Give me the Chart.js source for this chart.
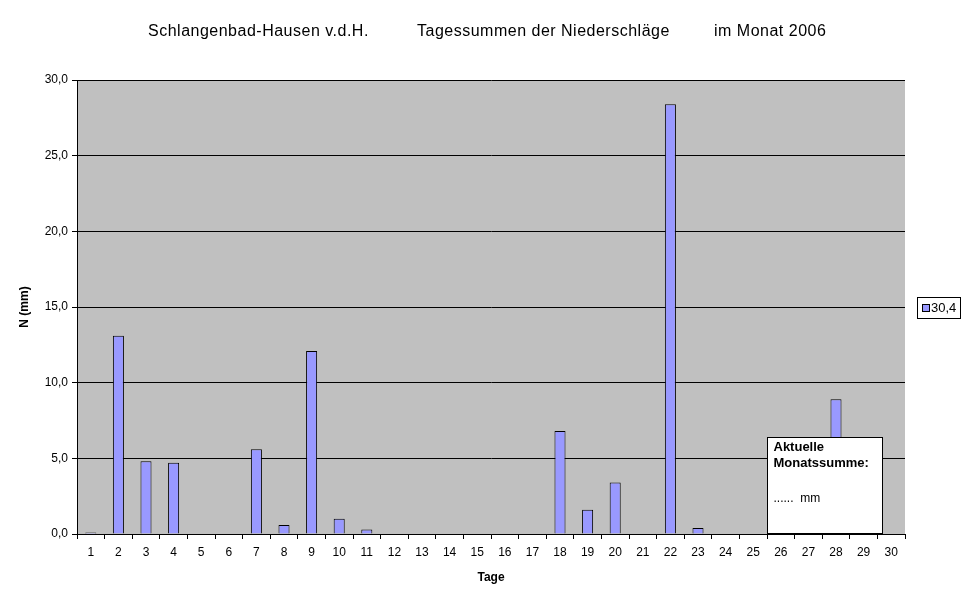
<!DOCTYPE html>
<html>
<head>
<meta charset="utf-8">
<script src="https://cdn.jsdelivr.net/npm/chart.js@4"></script>
<style>
  body { margin: 0; background: #fff; }
  canvas { display: block; }
</style>
</head>
<body>
<canvas id="chart" width="970" height="604"></canvas>
<script>
const days = ['1','2','3','4','5','6','7','8','9','10','11','12','13','14','15',
  '16','17','18','19','20','21','22','23','24','25','26','27','28','29','30'];
const rain = [0.1, 13.1, 4.8, 4.7, 0, 0, 5.6, 0.6, 12.1, 1.0, 0.3, 0, 0, 0, 0,
  0, 0, 6.8, 1.6, 3.4, 0, 28.4, 0.4, 0, 0, 0, 0, 8.9, 0, 0];
const seriesName = '30,4';
const titleParts = ['Schlangenbad-Hausen v.d.H.', 'Tagessummen der Niederschläge', 'im Monat 2006'];
const noteLines = ['Aktuelle', 'Monatssumme:', '', '......  mm'];

const font = '"Liberation Sans", Arial, sans-serif';
const ctx = document.getElementById('chart').getContext('2d');

// grey plot background
const plotBackground = {
  id: 'plotBackground',
  beforeDraw(chart) {
    const a = chart.chartArea;
    const c = chart.ctx;
    c.save();
    c.fillStyle = '#c0c0c0';
    c.fillRect(a.left, a.top, a.right - a.left, a.bottom - a.top);
    c.restore();
  }
};

// title, legend and the note box, Excel style
const extras = {
  id: 'extras',
  afterDatasetsDraw(chart) {
    const c = chart.ctx;
    const a = chart.chartArea;
    c.save();
    c.fillStyle = '#000';
    c.textBaseline = 'middle';
    c.font = '16px ' + font;
    c.letterSpacing = '0.5px';
    c.fillText(titleParts[0], 148, 32);
    c.fillText(titleParts[1], 417, 32);
    c.fillText(titleParts[2], 714, 32);
    c.letterSpacing = '0px';

    // note box
    const x = chart.scales.x;
    const bx = Math.round((x.getPixelForValue(24) + x.getPixelForValue(25)) / 2) + 0.5;
    const bw = 115, by = 437.5, bh = a.bottom - by;
    c.fillStyle = '#fff';
    c.fillRect(bx, by, bw, bh);
    c.strokeStyle = '#000';
    c.lineWidth = 1;
    c.strokeRect(bx, by, bw, bh);
    c.lineWidth = 2;
    c.beginPath();
    c.moveTo(bx, a.bottom);
    c.lineTo(bx + bw, a.bottom);
    c.stroke();
    c.lineWidth = 1;
    c.fillStyle = '#000';
    c.font = 'bold 13px ' + font;
    c.fillText(noteLines[0], bx + 6, by + 10);
    c.fillText(noteLines[1], bx + 6, by + 26);
    c.font = '12px ' + font;
    c.fillText(noteLines[3], bx + 6, by + 61);

    // legend
    c.fillStyle = '#fff';
    c.fillRect(917.5, 297.5, 43, 21);
    c.strokeRect(917.5, 297.5, 43, 21);
    c.fillStyle = '#9999ff';
    c.fillRect(922.5, 304.5, 7, 7);
    c.strokeRect(922.5, 304.5, 7, 7);
    c.fillStyle = '#000';
    c.font = '13px ' + font;
    c.fillText(seriesName, 931, 308);
    c.restore();
  }
};

new Chart(ctx, {
  type: 'bar',
  data: {
    labels: days,
    datasets: [{
      label: seriesName,
      data: rain,
      backgroundColor: '#9999ff',
      borderColor: '#000',
      borderWidth: 1,
      barPercentage: 0.8,
      categoryPercentage: 0.5
    }]
  },
  options: {
    responsive: false,
    animation: false,
    layout: { padding: { top: 80, right: 65, left: 0, bottom: 0 } },
    plugins: {
      legend: { display: false },
      title: { display: false },
      tooltip: { enabled: false }
    },
    scales: {
      x: {
        offset: true,
        grid: {
          offset: true,
          drawOnChartArea: false,
          color: '#000',
          tickLength: 5
        },
        border: { color: '#000' },
        ticks: { color: '#000', font: { family: font, size: 12 }, padding: 6, maxRotation: 0, autoSkip: false },
        title: { display: true, text: 'Tage', color: '#000', font: { family: font, size: 12, weight: 'bold' }, padding: { top: 0, bottom: 19 } },
        afterFit(s) { s.height = 70; }
      },
      y: {
        min: 0,
        max: 30,
        ticks: {
          stepSize: 5,
          color: '#000',
          font: { family: font, size: 12 },
          padding: 4,
          callback: v => v.toFixed(1).replace('.', ',')
        },
        grid: { color: '#000', tickLength: 5 },
        border: { color: '#000' },
        title: { display: true, text: 'N (mm)', color: '#000', font: { family: font, size: 12, weight: 'bold' }, padding: { top: 17, bottom: 0 } },
        afterFit(s) { s.width = 77; }
      }
    }
  },
  plugins: [plotBackground, extras]
});
</script>
</body>
</html>
